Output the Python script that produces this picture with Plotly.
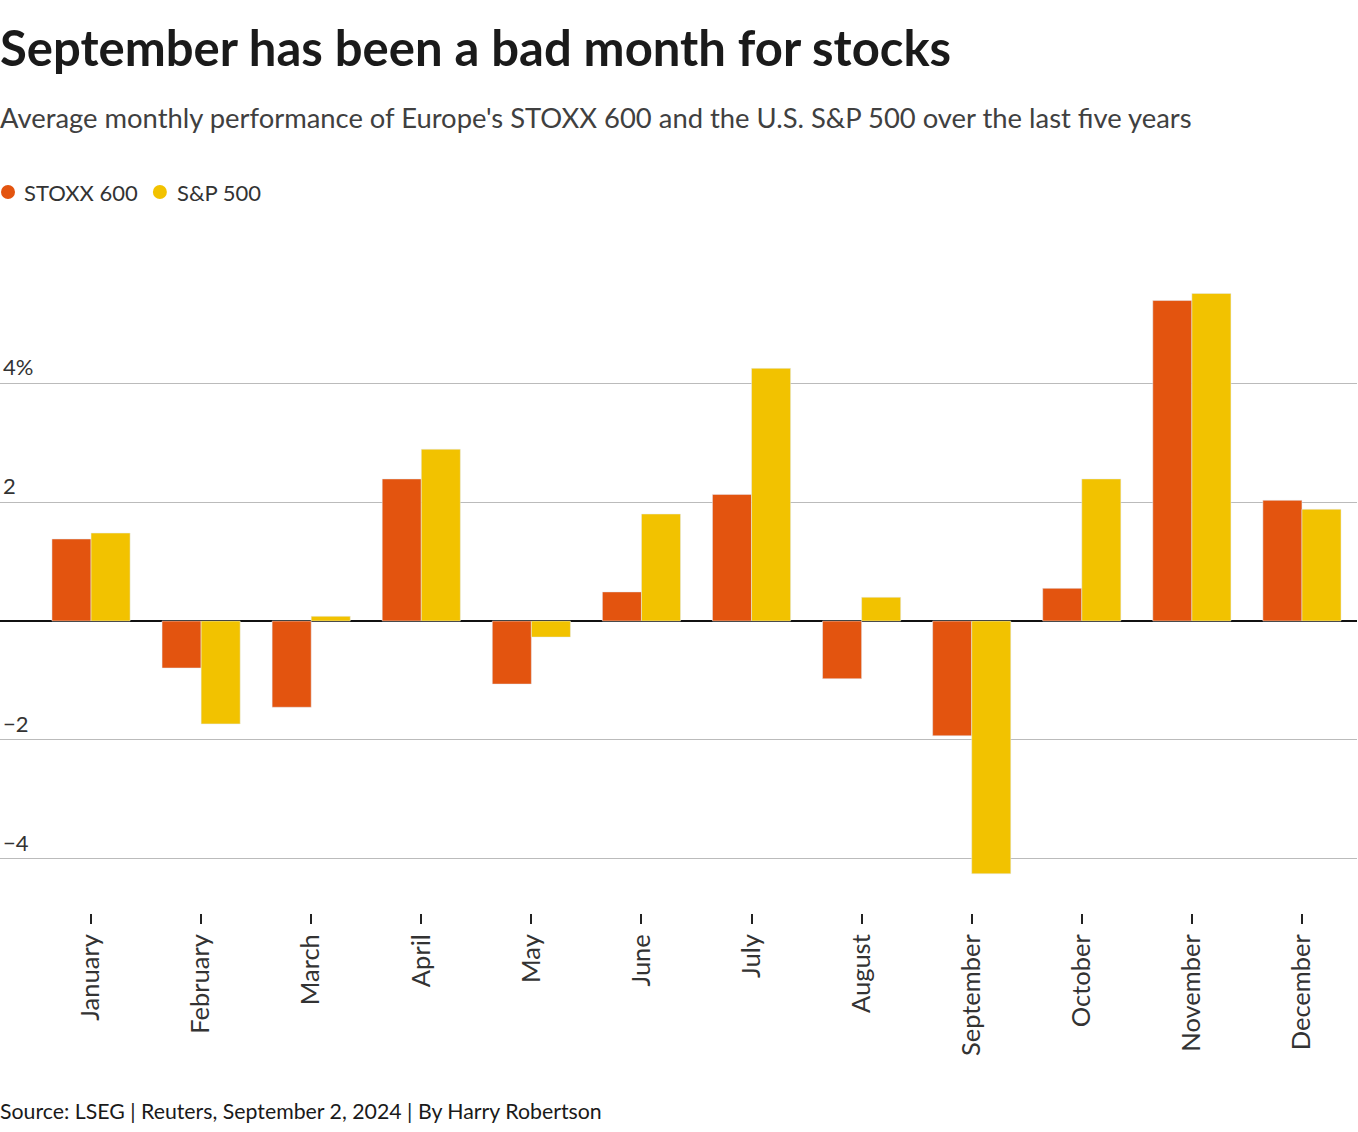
import plotly.graph_objects as go

months = ["January", "February", "March", "April", "May", "June", "July",
          "August", "September", "October", "November", "December"]
stoxx600 = [1.38, -0.79, -1.45, 2.39, -1.06, 0.49, 2.13, -0.97, -1.93, 0.55, 5.39, 2.03]
sp500 = [1.48, -1.73, 0.08, 2.89, -0.27, 1.80, 4.25, 0.40, -4.25, 2.39, 5.51, 1.88]
series_names = ["STOXX 600", "S&P 500"]
y_ticks = [-4, -2, 0, 2, 4]
y_tick_labels = ["−4", "−2", "", "2", "4%"]

C_STOXX = "#E3540F"
C_SP = "#F2C200"
FONT = "Lato"
W, H = 1358, 1132

xs = list(range(len(months)))

fig = go.Figure()
fig.add_trace(go.Bar(x=xs, y=stoxx600, name=series_names[0], marker_color=C_STOXX))
fig.add_trace(go.Bar(x=xs, y=sp500, name=series_names[1], marker_color=C_SP))

fig.update_layout(
    width=W, height=H,
    margin=dict(l=0, r=1, t=250, b=219),
    paper_bgcolor="white", plot_bgcolor="white",
    barmode="group", bargap=0.29, bargroupgap=0,
    font=dict(family=FONT, color="#333333"),
    showlegend=False,
)

fig.update_xaxes(
    tickmode="array", tickvals=xs, ticktext=months, tickangle=-90,
    range=[-0.5 - 36 / 110.1, len(months) - 0.5],
    ticks="outside", ticklen=10, tickwidth=1.5, tickcolor="#222222",
    tickfont=dict(size=25.5, color="#333333", family=FONT),
    showgrid=False, zeroline=False, showline=False,
)
fig.update_yaxes(
    tickmode="array", tickvals=y_ticks, ticktext=y_tick_labels,
    range=[-4.91, 6.24],
    ticklabelposition="inside top",
    tickfont=dict(size=22, color="#333333", family=FONT),
    showgrid=True, gridcolor="#BBBBBB", gridwidth=1.2,
    zeroline=True, zerolinecolor="#111111", zerolinewidth=1.5,
    showline=False, ticks="",
)

# custom legend (circle swatches + labels) in container pixel positions
legend_y = 1 - 192 / H
for cx, tx, col, name in [(8, 22, C_STOXX, series_names[0]), (160, 175, C_SP, series_names[1])]:
    fig.add_shape(type="circle", xref="paper", yref="paper",
                  x0=(cx - 7) / W, x1=(cx + 7) / W,
                  y0=(250 + 663 - (192 - 7)) / 663 - 0, y1=(250 + 663 - (192 + 7)) / 663,
                  fillcolor=col, line=dict(width=0))
    fig.add_annotation(text=name, xref="paper", yref="paper", x=tx / W,
                       y=(913 - 192) / 663, xanchor="left", yanchor="middle",
                       showarrow=False, font=dict(size=22, color="#333333", family=FONT))

fig.add_annotation(text="<b>September has been a bad month for stocks</b>",
                   xref="paper", yref="paper", x=0, y=1 + (250 - 47) / 663,
                   xanchor="left", yanchor="middle", showarrow=False,
                   font=dict(size=49, color="#1a1a1a", family=FONT), xshift=-2)
fig.add_annotation(text="Average monthly performance of Europe's STOXX 600 and the U.S. S&P 500 over the last five years",
                   xref="paper", yref="paper", x=0, y=1 + (250 - 117) / 663,
                   xanchor="left", yanchor="middle", showarrow=False,
                   font=dict(size=27.4, color="#404040", family=FONT), xshift=-2)
fig.add_annotation(text="Source: LSEG | Reuters, September 2, 2024 | By Harry Robertson",
                   xref="paper", yref="paper", x=0, y=-(1111 - 913) / 663,
                   xanchor="left", yanchor="middle", showarrow=False,
                   font=dict(size=21.3, color="#1a1a1a", family=FONT), xshift=-2)

fig.write_html("out.html", config={"displayModeBar": False},
               post_script="document.body.style.margin='0';document.body.style.padding='0';")
